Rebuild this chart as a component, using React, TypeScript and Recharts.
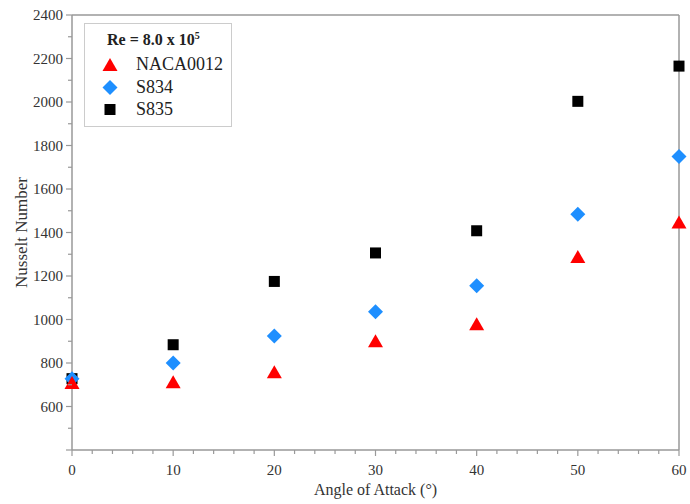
import React from 'react';
import { ScatterChart, Scatter, XAxis, YAxis, ReferenceLine, Legend } from 'recharts';

const angles = [0, 10, 20, 30, 40, 50, 60];
const naca0012 = [708, 712, 758, 900, 978, 1287, 1446];
const s834 = [728, 800, 924, 1036, 1155, 1484, 1750];
const s835 = [728, 884, 1175, 1306, 1408, 2003, 2165];

const xTicks = [0, 2, 4, 6, 8, 10, 12, 14, 16, 18, 20, 22, 24, 26, 28, 30, 32, 34, 36, 38, 40, 42, 44, 46, 48, 50, 52, 54, 56, 58, 60];
const xLabels = [0, 10, 20, 30, 40, 50, 60];
const yTicks = [400, 500, 600, 700, 800, 900, 1000, 1100, 1200, 1300, 1400, 1500, 1600, 1700, 1800, 1900, 2000, 2100, 2200, 2300, 2400];
const yLabels = [600, 800, 1000, 1200, 1400, 1600, 1800, 2000, 2200, 2400];

const toPoints = (vals: number[]) => angles.map((a, i) => ({ x: a, y: vals[i] }));

const FONT = '"Liberation Serif", "Times New Roman", serif';
const AXIS = '#999';
const TXT = '#333';

const Triangle = (p: any) => {
  const { cx, cy } = p;
  return <polygon points={`${cx},${cy - 7} ${cx + 7.5},${cy + 6} ${cx - 7.5},${cy + 6}`} fill="#ff0000" />;
};
const Diamond = (p: any) => {
  const { cx, cy } = p;
  return <polygon points={`${cx},${cy - 7.5} ${cx + 7.5},${cy} ${cx},${cy + 7.5} ${cx - 7.5},${cy}`} fill="#1e8fff" />;
};
const Square = (p: any) => {
  const { cx, cy } = p;
  return <rect x={cx - 5.5} y={cy - 5.5} width={11} height={11} fill="#000" />;
};

const XTick = (p: any) => {
  const { x, y, payload } = p;
  const v = payload.value;
  const major = xLabels.includes(v);
  return (
    <g>
      <line x1={x} y1={y} x2={x} y2={y + (major ? 6 : 4)} stroke={AXIS} strokeWidth={1.2} />
      {major && (
        <text x={x} y={y + 25} textAnchor="middle" fontFamily={FONT} fontSize={15} fill={TXT}>
          {v}
        </text>
      )}
    </g>
  );
};

const YTick = (p: any) => {
  const { x, y, payload } = p;
  const v = payload.value;
  const major = yLabels.includes(v) || v === 400;
  return (
    <g>
      <line x1={x} y1={y} x2={x - (major ? 6 : 4)} y2={y} stroke={AXIS} strokeWidth={1.2} />
      {yLabels.includes(v) && (
        <text x={x - 9} y={y + 5} textAnchor="end" fontFamily={FONT} fontSize={15} fill={TXT}>
          {v}
        </text>
      )}
    </g>
  );
};

const legendItems = [
  { name: 'NACA0012', shape: 'tri' },
  { name: 'S834', shape: 'dia' },
  { name: 'S835', shape: 'sq' },
];

const LegendBox = () => (
  <div
    style={{
      width: 148,
      height: 104,
      border: '1px solid #ccc',
      background: '#fff',
      fontFamily: FONT,
      color: '#222',
      boxSizing: 'border-box',
      position: 'relative',
    }}
  >
    <div style={{ position: 'absolute', left: 22, top: 6, fontSize: 16, fontWeight: 'bold', whiteSpace: 'nowrap' }}>
      Re = 8.0 x 10<sup style={{ fontSize: 10 }}>5</sup>
    </div>
    {legendItems.map((it, i) => (
      <div key={it.name} style={{ position: 'absolute', left: 0, top: 31 + i * 22.5, height: 20, width: 146 }}>
        <svg width={30} height={20} style={{ position: 'absolute', left: 13, top: 0 }}>
          {it.shape === 'tri' && <polygon points="12,3 19.5,16 4.5,16" fill="#ff0000" />}
          {it.shape === 'dia' && <polygon points="12,2 19.5,9.5 12,17 4.5,9.5" fill="#1e8fff" />}
          {it.shape === 'sq' && <rect x={6.5} y={4} width={11} height={11} fill="#000" />}
        </svg>
        <span style={{ position: 'absolute', left: 51, top: -1, fontSize: 18, whiteSpace: 'nowrap' }}>{it.name}</span>
      </div>
    ))}
  </div>
);

export default function App() {
  return (
    <div style={{ position: 'absolute', left: 0, top: 0, width: 690, height: 504, background: '#fff' }}>
      <ScatterChart width={690} height={504} margin={{ top: 15, right: 11, bottom: 0, left: 12 }}>
        <XAxis
          type="number"
          dataKey="x"
          domain={[0, 60]}
          ticks={xTicks}
          interval={0}
          tickSize={0}
          tickMargin={0}
          tickLine={false}
          tick={<XTick />}
          stroke={AXIS}
          strokeWidth={1.5}
          height={54}
          label={{ value: 'Angle of Attack (°)', position: 'insideBottom', offset: 9, style: { fontFamily: FONT, fontSize: 16, fill: TXT } }}
        />
        <YAxis
          type="number"
          dataKey="y"
          domain={[400, 2400]}
          ticks={yTicks}
          interval={0}
          tickSize={0}
          tickMargin={0}
          tickLine={false}
          tick={<YTick />}
          stroke={AXIS}
          strokeWidth={1.5}
          width={60}
          label={{ value: 'Nusselt Number', angle: -90, position: 'insideLeft', offset: 9, style: { fontFamily: FONT, fontSize: 17, fill: TXT, textAnchor: 'middle' } }}
        />
        <ReferenceLine y={2400} stroke={AXIS} strokeWidth={1.5} ifOverflow="extendDomain" />
        <ReferenceLine x={60} stroke={AXIS} strokeWidth={1.5} ifOverflow="extendDomain" />
        <Legend
          layout="vertical"
          align="center"
          verticalAlign="middle"
          wrapperStyle={{ left: 84, top: 23, width: 148, height: 104 }}
          content={() => <LegendBox />}
        />
        <Scatter name="S835" data={toPoints(s835)} shape={<Square />} isAnimationActive={false} />
        <Scatter name="S834" data={toPoints(s834)} shape={<Diamond />} isAnimationActive={false} />
        <Scatter name="NACA0012" data={toPoints(naca0012)} shape={<Triangle />} isAnimationActive={false} />
      </ScatterChart>
    </div>
  );
}
